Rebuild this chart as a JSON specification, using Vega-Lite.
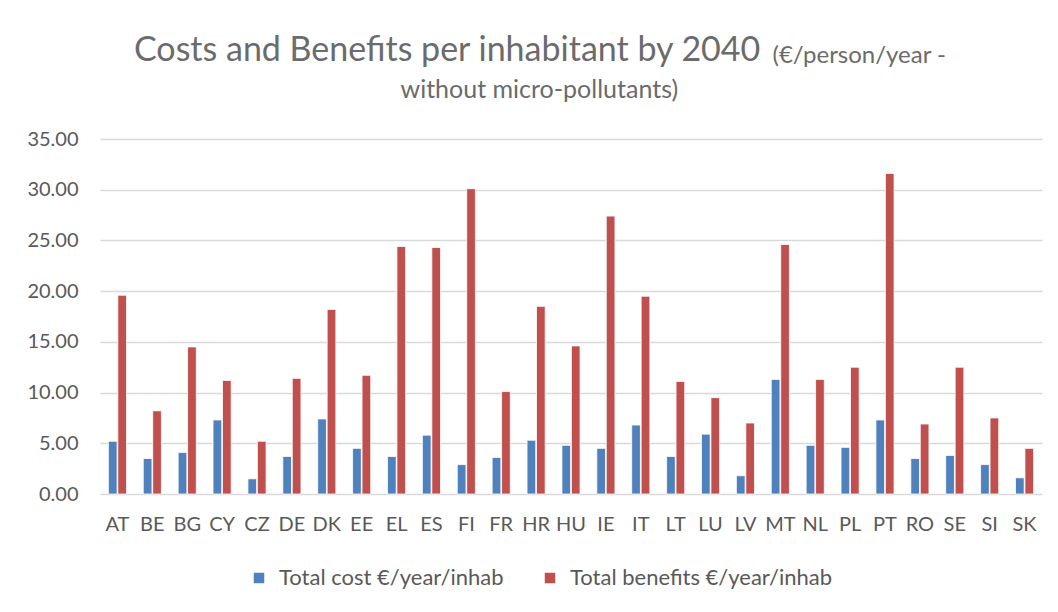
{
  "$schema": "https://vega.github.io/schema/vega-lite/v6.json",
  "width": 942,
  "height": 355,
  "autosize": {"type": "none"},
  "padding": {"left": 100, "top": 139, "right": 16, "bottom": 118},
  "background": "white",
  "config": {"font": "Lato", "view": {"stroke": null}},
  "title": {
    "text": "Costs and Benefits per inhabitant by 2040",
    "anchor": "start",
    "frame": "group",
    "baseline": "alphabetic",
    "dx": 34,
    "offset": -52,
    "fontSize": 34,
    "font": "Lato",
    "fontWeight": "normal",
    "color": "#6B6B6B"
  },
  "data": {
    "values": [
      {"country": "AT", "series": "Total cost €/year/inhab", "value": 5.2},
      {"country": "AT", "series": "Total benefits €/year/inhab", "value": 19.6},
      {"country": "BE", "series": "Total cost €/year/inhab", "value": 3.5},
      {"country": "BE", "series": "Total benefits €/year/inhab", "value": 8.2},
      {"country": "BG", "series": "Total cost €/year/inhab", "value": 4.1},
      {"country": "BG", "series": "Total benefits €/year/inhab", "value": 14.5},
      {"country": "CY", "series": "Total cost €/year/inhab", "value": 7.3},
      {"country": "CY", "series": "Total benefits €/year/inhab", "value": 11.2},
      {"country": "CZ", "series": "Total cost €/year/inhab", "value": 1.5},
      {"country": "CZ", "series": "Total benefits €/year/inhab", "value": 5.2},
      {"country": "DE", "series": "Total cost €/year/inhab", "value": 3.7},
      {"country": "DE", "series": "Total benefits €/year/inhab", "value": 11.4},
      {"country": "DK", "series": "Total cost €/year/inhab", "value": 7.4},
      {"country": "DK", "series": "Total benefits €/year/inhab", "value": 18.2},
      {"country": "EE", "series": "Total cost €/year/inhab", "value": 4.5},
      {"country": "EE", "series": "Total benefits €/year/inhab", "value": 11.7},
      {"country": "EL", "series": "Total cost €/year/inhab", "value": 3.7},
      {"country": "EL", "series": "Total benefits €/year/inhab", "value": 24.4},
      {"country": "ES", "series": "Total cost €/year/inhab", "value": 5.8},
      {"country": "ES", "series": "Total benefits €/year/inhab", "value": 24.3},
      {"country": "FI", "series": "Total cost €/year/inhab", "value": 2.9},
      {"country": "FI", "series": "Total benefits €/year/inhab", "value": 30.1},
      {"country": "FR", "series": "Total cost €/year/inhab", "value": 3.6},
      {"country": "FR", "series": "Total benefits €/year/inhab", "value": 10.1},
      {"country": "HR", "series": "Total cost €/year/inhab", "value": 5.3},
      {"country": "HR", "series": "Total benefits €/year/inhab", "value": 18.5},
      {"country": "HU", "series": "Total cost €/year/inhab", "value": 4.8},
      {"country": "HU", "series": "Total benefits €/year/inhab", "value": 14.6},
      {"country": "IE", "series": "Total cost €/year/inhab", "value": 4.5},
      {"country": "IE", "series": "Total benefits €/year/inhab", "value": 27.4},
      {"country": "IT", "series": "Total cost €/year/inhab", "value": 6.8},
      {"country": "IT", "series": "Total benefits €/year/inhab", "value": 19.5},
      {"country": "LT", "series": "Total cost €/year/inhab", "value": 3.7},
      {"country": "LT", "series": "Total benefits €/year/inhab", "value": 11.1},
      {"country": "LU", "series": "Total cost €/year/inhab", "value": 5.9},
      {"country": "LU", "series": "Total benefits €/year/inhab", "value": 9.5},
      {"country": "LV", "series": "Total cost €/year/inhab", "value": 1.8},
      {"country": "LV", "series": "Total benefits €/year/inhab", "value": 7.0},
      {"country": "MT", "series": "Total cost €/year/inhab", "value": 11.3},
      {"country": "MT", "series": "Total benefits €/year/inhab", "value": 24.6},
      {"country": "NL", "series": "Total cost €/year/inhab", "value": 4.8},
      {"country": "NL", "series": "Total benefits €/year/inhab", "value": 11.3},
      {"country": "PL", "series": "Total cost €/year/inhab", "value": 4.6},
      {"country": "PL", "series": "Total benefits €/year/inhab", "value": 12.5},
      {"country": "PT", "series": "Total cost €/year/inhab", "value": 7.3},
      {"country": "PT", "series": "Total benefits €/year/inhab", "value": 31.6},
      {"country": "RO", "series": "Total cost €/year/inhab", "value": 3.5},
      {"country": "RO", "series": "Total benefits €/year/inhab", "value": 6.9},
      {"country": "SE", "series": "Total cost €/year/inhab", "value": 3.8},
      {"country": "SE", "series": "Total benefits €/year/inhab", "value": 12.5},
      {"country": "SI", "series": "Total cost €/year/inhab", "value": 2.9},
      {"country": "SI", "series": "Total benefits €/year/inhab", "value": 7.5},
      {"country": "SK", "series": "Total cost €/year/inhab", "value": 1.6},
      {"country": "SK", "series": "Total benefits €/year/inhab", "value": 4.5}
    ]
  },
  "mark": {"type": "bar", "stroke": "white", "strokeWidth": 0.8},
  "encoding": {
    "x": {
      "field": "country",
      "type": "nominal",
      "sort": null,
      "scale": {"paddingInner": 0.48, "paddingOuter": 0.24},
      "axis": {
        "title": "without micro-pollutants)",
        "titleX": 300,
        "titleY": -397,
        "titleAngle": 0,
        "titleAlign": "left",
        "titleBaseline": "alphabetic",
        "titleFontSize": 25,
        "titleFontWeight": "normal",
        "titleColor": "#6B6B6B",
        "labelAngle": 0,
        "labelFontSize": 20,
        "labelColor": "#595959",
        "labelPadding": 20,
        "domain": false,
        "ticks": false
      }
    },
    "xOffset": {
      "field": "series",
      "sort": ["Total cost €/year/inhab", "Total benefits €/year/inhab"],
      "scale": {"paddingInner": 0.08}
    },
    "y": {
      "field": "value",
      "type": "quantitative",
      "scale": {"domain": [0, 35]},
      "axis": {
        "values": [0, 5, 10, 15, 20, 25, 30, 35],
        "format": ".2f",
        "title": "(€/person/year -",
        "titleX": 672,
        "titleY": -77,
        "titleAngle": 0,
        "titleAlign": "left",
        "titleBaseline": "alphabetic",
        "titleFontSize": 24,
        "titleFontWeight": "normal",
        "titleColor": "#6B6B6B",
        "labelFontSize": 20,
        "labelColor": "#595959",
        "labelPadding": 22,
        "domain": false,
        "ticks": false,
        "gridColor": "#D9D9D9",
        "gridWidth": 1.5
      }
    },
    "color": {
      "field": "series",
      "type": "nominal",
      "sort": ["Total cost €/year/inhab", "Total benefits €/year/inhab"],
      "scale": {"range": ["#4F81BD", "#C0504D"]},
      "legend": {
        "title": null,
        "orient": "none",
        "direction": "horizontal",
        "legendX": 148,
        "legendY": 428,
        "symbolType": "square",
        "symbolSize": 110,
        "symbolStrokeWidth": 0,
        "labelFontSize": 22,
        "labelColor": "#595959",
        "labelOffset": 9,
        "labelLimit": 400,
        "columnPadding": 35
      }
    }
  }
}
